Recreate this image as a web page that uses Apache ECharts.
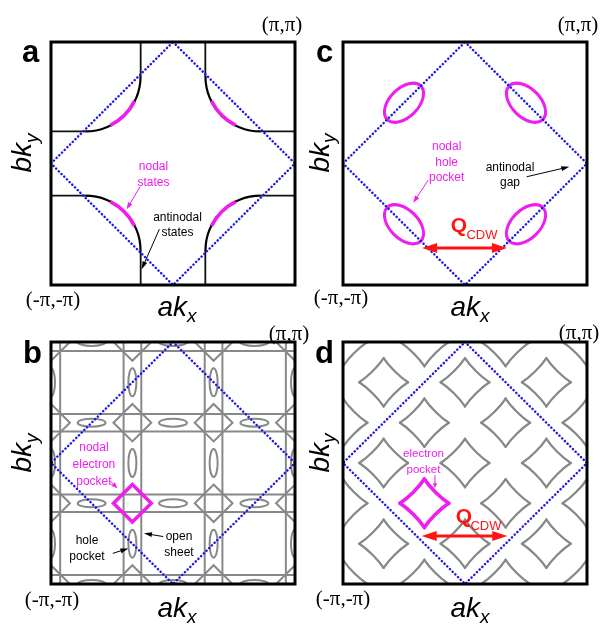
<!DOCTYPE html>
<html><head><meta charset="utf-8">
<script src="https://cdn.jsdelivr.net/npm/echarts@6/dist/echarts.min.js"></script>
<style>html,body{margin:0;padding:0;background:#fff}#c{width:604px;height:626px}</style>
</head><body><div id="c"></div>
<script>
// ---------------- DATA (momentum in units of pi) ----------------
const zoneDiamond = [[0,1],[1,0],[0,-1],[-1,0],[0,1]];

// Panel a: straight Fermi-surface pieces [x1,y1,x2,y2]
const aSegments = [
  [-1,0.265,-0.72,0.265], [-0.265,0.72,-0.265,1],
  [0.72,0.265,1,0.265], [0.265,0.72,0.265,1],
  [-1,-0.265,-0.72,-0.265], [-0.265,-0.72,-0.265,-1],
  [0.72,-0.265,1,-0.265], [0.265,-0.72,0.265,-1]
];
// Panel a: curved pieces [cx,cy,r,startDeg,endDeg]
const aArcs = [
  [-0.72,0.72,0.455,-90,0], [0.72,0.72,0.455,180,270],
  [-0.72,-0.72,0.455,0,90], [0.72,-0.72,0.455,90,180]
];
const aNodalArcs = [
  [-0.72,0.72,0.455,-63,-27], [0.72,0.72,0.455,207,243],
  [-0.72,-0.72,0.455,27,63], [0.72,-0.72,0.455,117,153]
];

// Panel c: nodal hole pockets [cx,cy,tiltDeg]
const cPockets = [[-0.5,0.5,45],[0.5,0.5,-45],[-0.5,-0.5,-45],[0.5,-0.5,45]];
const cQ = [[-0.352,-0.695,0.344,-0.695]];

// Panel b: open sheets (positions of vertical & horizontal lines)
const bSheetPos = [-0.925,-0.405,-0.26,0.26,0.405,0.925];
// hole pockets elongated vertically / horizontally [cx,cy]
const bHoleV = [[-1,0],[-1,0.667],[-1,-0.667],[-0.333,0],[-0.333,0.667],[-0.333,-0.667],
                [0.333,0],[0.333,0.667],[0.333,-0.667],[1,0],[1,0.667],[1,-0.667]];
const bHoleH = [[0,-1],[0.667,-1],[-0.667,-1],[0,-0.333],[0.667,-0.333],[-0.667,-0.333],
                [0,0.333],[0.667,0.333],[-0.667,0.333],[0,1],[0.667,1],[-0.667,1]];
// diamond pockets at sheet crossings
const bDiamonds = [[-1,-1],[-1,-0.333],[-1,0.333],[-1,1],[-0.333,-1],[-0.333,0.333],[-0.333,1],
                   [0.333,-1],[0.333,-0.333],[0.333,0.333],[0.333,1],[1,-1],[1,-0.333],[1,0.333],[1,1]];
const bNodalDiamond = [[-0.333,-0.333]];

// Panel d: electron pockets (4-point stars)
const dStars = [[-1,-1],[-1,-0.333],[-1,0.333],[-1,1],
                [-0.667,-0.667],[-0.667,0],[-0.667,0.667],
                [-0.333,-1],[-0.333,0.333],[-0.333,1],
                [0,-0.667],[0,0],[0,0.667],
                [0.333,-1],[0.333,-0.333],[0.333,0.333],[0.333,1],
                [0.667,-0.667],[0.667,0],[0.667,0.667],
                [1,-1],[1,-0.333],[1,0.333],[1,1]];
const dNodalStar = [[-0.333,-0.333]];
const dQ = [[-0.355,-0.603,0.347,-0.603]];

// annotation texts and their anchor points
const aMagText = ['nodal\nstates'];        const aMagTextPos = [[-0.16,-0.089]];
const aBlkText = ['antinodal\nstates'];    const aBlkTextPos = [[0.037,-0.508]];
const cMagText = ['nodal\nhole\npocket'];  const cMagTextPos = [[-0.15,0.007]];
const cBlkText = ['antinodal\ngap'];       const cBlkTextPos = [[0.369,-0.096]];
const bMagText = ['nodal\nelectron\npocket']; const bMagTextPos = [[-0.648,-0.011]];
const bBlkText = ['hole\npocket','open\nsheet']; const bBlkTextPos = [[-0.705,-0.707],[0.049,-0.678]];
const dMagText = ['electron\npocket'];     const dMagTextPos = [[-0.34,0.008]];
const qText = ['Q'], cdwText = ['CDW'];
const cQPos = [[-0.049,-0.514]], cCdwPos = [[0.139,-0.588]];
const dQPos = [[-0.008,-0.444]], dCdwPos = [[0.172,-0.521]];
// annotation arrows [x1,y1,x2,y2] (head at second point)
const aMagArrow = [[-0.27,-0.191,-0.38,-0.377]];
const aBlkArrow = [[-0.112,-0.541,-0.257,-0.871]];
const cMagArrow = [[-0.301,-0.136,-0.424,-0.323]];
const cBlkArrow = [[0.506,-0.109,0.855,-0.027]];
const bMagArrow = [[-0.516,-0.146,-0.457,-0.209]];
const bBlkArrow = [[-0.494,-0.747,-0.366,-0.706],[-0.08,-0.608,-0.238,-0.581]];
const dMagArrow = [[-0.246,-0.1,-0.246,-0.209]];

const panelLetters = ['a','c','b','d'];
const cornerTop = '(π,π)', cornerBottom = '(-π,-π)';

// ---------------- STYLE / LAYOUT ----------------
const MAG = '#ee1fee', BLUE = '#1a1ae6', GRAY = '#888888', RED = '#ff1414';
const SANS = '"Liberation Sans", Arial, sans-serif';
const SERIF = '"Liberation Serif", "Times New Roman", serif';
const layout = [ // order: a, c, b, d
  {grid:[51,42,244,243],  letter:[22,53],  piTop:[282,25],  piBot:[53,300],  akx:[187,308], bky:[23.5,143]},
  {grid:[343,42,244,243], letter:[316,53], piTop:[578,25],  piBot:[341,298], akx:[480,308], bky:[321,143]},
  {grid:[51,342,244,242], letter:[23,354], piTop:[289,334], piBot:[52,600],  akx:[187,609], bky:[23.5,443]},
  {grid:[343,342,244,242],letter:[315,354],piTop:[579,333], piBot:[343,599], akx:[480,609], bky:[321,443]}
];
const PI = {a:0, c:1, b:2, d:3};

// ---------------- RENDERERS ----------------
function segItem(color, w) {
  return (p, api) => {
    const p1 = api.coord([api.value(0), api.value(1)]), p2 = api.coord([api.value(2), api.value(3)]);
    return {type:'line', shape:{x1:p1[0],y1:p1[1],x2:p2[0],y2:p2[1]}, style:{stroke:color, lineWidth:w, fill:'none'}};
  };
}
function arcItem(color, w) {
  return (p, api) => {
    const c = api.coord([api.value(0), api.value(1)]);
    const s = api.size([api.value(2), api.value(2)]);
    const r = (s[0] + s[1]) / 2;
    const a0 = api.value(3) * Math.PI / 180, a1 = api.value(4) * Math.PI / 180;
    return {type:'arc', shape:{cx:c[0], cy:c[1], r:r, startAngle:-a1, endAngle:-a0, clockwise:true},
            style:{stroke:color, lineWidth:w, fill:'none'}};
  };
}
function ellipseItem(color, w, rx, ry, useTilt, fixedTilt) {
  return (p, api) => {
    const c = api.coord([api.value(0), api.value(1)]);
    const k = api.size([1, 1]); const sc = (k[0] + k[1]) / 2;
    const tilt = useTilt ? api.value(2) : fixedTilt;
    return {type:'ellipse', x:c[0], y:c[1], rotation: tilt * Math.PI / 180,
            shape:{cx:0, cy:0, rx:rx*sc, ry:ry*sc}, style:{stroke:color, lineWidth:w, fill:'none'}};
  };
}
function diamondItem(color, w, r) {
  return (p, api) => {
    const c = api.coord([api.value(0), api.value(1)]);
    const k = api.size([r, r]);
    return {type:'polygon', shape:{points:[[c[0],c[1]-k[1]],[c[0]+k[0],c[1]],[c[0],c[1]+k[1]],[c[0]-k[0],c[1]]]},
            style:{stroke:color, lineWidth:w, fill:'none', lineJoin:'miter'}};
  };
}
function starItem(color, w, r) {
  const ax = 0.34, bb = 0.22;
  return (p, api) => {
    const c = api.coord([api.value(0), api.value(1)]);
    const k = api.size([r, r]);
    const tips = [[1,0],[0,-1],[-1,0],[0,1]];
    const children = [];
    for (let i = 0; i < 4; i++) {
      const A = tips[i], B = tips[(i+1)%4];
      const pt = (u, v) => [c[0] + u * k[0], c[1] + v * k[1]];
      const P0 = pt(A[0], A[1]), P3 = pt(B[0], B[1]);
      const C1 = pt(A[0]*(1-ax) + B[0]*bb, A[1]*(1-ax) + B[1]*bb);
      const C2 = pt(B[0]*(1-ax) + A[0]*bb, B[1]*(1-ax) + A[1]*bb);
      children.push({type:'bezierCurve', shape:{x1:P0[0],y1:P0[1],x2:P3[0],y2:P3[1],cpx1:C1[0],cpy1:C1[1],cpx2:C2[0],cpy2:C2[1]},
                     style:{stroke:color, lineWidth:w, fill:'none', lineCap:'round'}});
    }
    return {type:'group', children};
  };
}
function arrowItem(color, w, hl, hw, both) {
  return (p, api) => {
    const p1 = api.coord([api.value(0), api.value(1)]), p2 = api.coord([api.value(2), api.value(3)]);
    const dx = p2[0]-p1[0], dy = p2[1]-p1[1], L = Math.hypot(dx, dy);
    const ux = dx/L, uy = dy/L, nx = -uy, ny = ux;
    const head = (t, sx, sy) => ({type:'polygon', shape:{points:[[t[0],t[1]],
      [t[0]-sx*hl+nx*hw/2, t[1]-sy*hl+ny*hw/2],[t[0]-sx*hl-nx*hw/2, t[1]-sy*hl-ny*hw/2]]}, style:{fill:color, stroke:'none'}});
    const s = both ? [p1[0]+ux*hl*0.7, p1[1]+uy*hl*0.7] : p1;
    const e = [p2[0]-ux*hl*0.7, p2[1]-uy*hl*0.7];
    const ch = [{type:'line', shape:{x1:s[0],y1:s[1],x2:e[0],y2:e[1]}, style:{stroke:color, lineWidth:w}}, head(p2, ux, uy)];
    if (both) ch.push(head(p1, -ux, -uy));
    return {type:'group', children:ch};
  };
}
function textItem(texts, color, font, lh) {
  return (p, api) => {
    const c = api.coord([api.value(0), api.value(1)]);
    return {type:'text', x:c[0], y:c[1], style:{text:texts[p.dataIndex], font:font, fill:color,
            align:'center', verticalAlign:'middle', lineHeight:lh}};
  };
}

// ---------------- SERIES ----------------
const series = [];
function add(panel, renderItem, data, z, clip) {
  series.push({type:'custom', coordinateSystem:'cartesian2d', xAxisIndex:PI[panel], yAxisIndex:PI[panel],
    renderItem, data, clip: clip !== false, silent:true, animation:false, z: z || 2});
}
// panel a
add('a', segItem('#111', 1.8), aSegments, 2);
add('a', arcItem('#000', 2.2), aArcs, 3);
add('a', arcItem(MAG, 3.6), aNodalArcs, 4);
// panel c
add('c', ellipseItem(MAG, 3, 0.195, 0.117, true), cPockets, 3);
add('c', arrowItem(RED, 3, 15, 10, true), cQ, 8, false);
// panel b
const bLines = [];
bSheetPos.forEach(v => { bLines.push([v,-1,v,1]); bLines.push([-1,v,1,v]); });
add('b', segItem(GRAY, 2), bLines, 2);
add('b', ellipseItem(GRAY, 2, 0.115, 0.033, false, 90), bHoleV, 2);
add('b', ellipseItem(GRAY, 2, 0.115, 0.033, false, 0), bHoleH, 2);
add('b', diamondItem(GRAY, 2, 0.155), bDiamonds, 2);
add('b', diamondItem(MAG, 3.5, 0.155), bNodalDiamond, 4);
// panel d
add('d', starItem(GRAY, 2.3, 0.2), dStars, 2);
add('d', starItem(MAG, 3.6, 0.2), dNodalStar, 4);
add('d', arrowItem(RED, 3, 15, 10, true), dQ, 8, false);
// zone boundary (dotted blue) in all panels
['a','c','b','d'].forEach(pn => series.push({type:'line', xAxisIndex:PI[pn], yAxisIndex:PI[pn], data:zoneDiamond,
  symbol:'none', silent:true, animation:false, clip:false, z:5,
  lineStyle:{color:BLUE, width:2.5, type:[0.1,3.7], cap:'round'}}));
// annotation arrows and texts
const annoFont = '12px ' + SANS;
add('a', arrowItem(MAG, 1, 7, 5, false), aMagArrow, 9, false);
add('a', arrowItem('#000', 1, 8, 5, false), aBlkArrow, 9, false);
add('a', textItem(aMagText, MAG, annoFont, 16), aMagTextPos, 9, false);
add('a', textItem(aBlkText, '#000', annoFont, 15), aBlkTextPos, 9, false);
add('c', arrowItem(MAG, 1, 7, 5, false), cMagArrow, 9, false);
add('c', arrowItem('#000', 1, 8, 5, false), cBlkArrow, 9, false);
add('c', textItem(cMagText, MAG, annoFont, 15.5), cMagTextPos, 9, false);
add('c', textItem(cBlkText, '#000', annoFont, 15), cBlkTextPos, 9, false);
add('b', arrowItem(MAG, 1, 6, 5, false), bMagArrow, 9, false);
add('b', arrowItem('#000', 1, 8, 5, false), bBlkArrow, 9, false);
add('b', textItem(bMagText, MAG, annoFont, 17), bMagTextPos, 9, false);
add('b', textItem(bBlkText, '#000', annoFont, 16), bBlkTextPos, 9, false);
add('d', arrowItem(MAG, 1, 5, 4, false), dMagArrow, 9, false);
add('d', textItem(dMagText, MAG, '11.5px ' + SANS, 15.5), dMagTextPos, 9, false);
add('c', textItem(qText, RED, 'bold 21px ' + SANS, 22), cQPos, 9, false);
add('c', textItem(cdwText, RED, '13px ' + SANS, 14), cCdwPos, 9, false);
add('d', textItem(qText, RED, 'bold 21px ' + SANS, 22), dQPos, 9, false);
add('d', textItem(cdwText, RED, '13px ' + SANS, 14), dCdwPos, 9, false);

// ---------------- OUTER LABELS ----------------
const graphic = [];
layout.forEach((L, i) => {
  graphic.push({type:'text', x:L.letter[0], y:L.letter[1], style:{text:panelLetters[i], font:'bold 31px ' + SANS, fill:'#000', align:'left', verticalAlign:'middle'}});
  graphic.push({type:'text', x:L.piTop[0], y:L.piTop[1], style:{text:cornerTop, font:'21px ' + SERIF, fill:'#000', align:'center', verticalAlign:'middle'}});
  graphic.push({type:'text', x:L.piBot[0], y:L.piBot[1], style:{text:cornerBottom, font:'21px ' + SERIF, fill:'#000', align:'center', verticalAlign:'middle'}});
  graphic.push({type:'text', x:L.akx[0], y:L.akx[1], style:{text:'ak', font:'italic 28px ' + SANS, fill:'#000', align:'right', verticalAlign:'middle'}});
  graphic.push({type:'text', x:L.akx[0], y:L.akx[1] + 9, style:{text:'x', font:'italic 19px ' + SANS, fill:'#000', align:'left', verticalAlign:'middle'}});
  graphic.push({type:'group', x:L.bky[0], y:L.bky[1], rotation:Math.PI/2, children:[
    {type:'text', x:0, y:0, style:{text:'bk', font:'italic 28px ' + SANS, fill:'#000', align:'right', verticalAlign:'middle'}},
    {type:'text', x:0, y:9, style:{text:'y', font:'italic 19px ' + SANS, fill:'#000', align:'left', verticalAlign:'middle'}}
  ]});
});

const chart = echarts.init(document.getElementById('c'), null, {renderer:'canvas'});
chart.setOption({
  animation:false,
  backgroundColor:'#fff',
  grid: layout.map(L => ({left:L.grid[0], top:L.grid[1], width:L.grid[2], height:L.grid[3], show:true,
        borderColor:'#000', borderWidth:3, backgroundColor:'rgba(0,0,0,0)', z:20})),
  xAxis: layout.map((L, i) => ({gridIndex:i, type:'value', min:-1, max:1, show:false})),
  yAxis: layout.map((L, i) => ({gridIndex:i, type:'value', min:-1, max:1, show:false})),
  graphic: graphic,
  series: series
});
</script></body></html>
